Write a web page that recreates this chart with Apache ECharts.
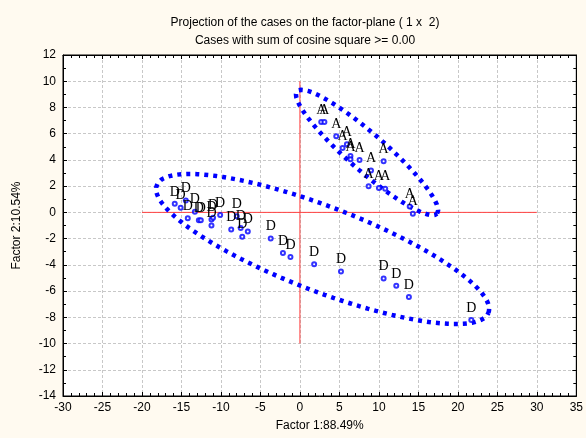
<!DOCTYPE html>
<html>
<head>
<meta charset="utf-8">
<script src="https://cdn.jsdelivr.net/npm/echarts@6/dist/echarts.min.js"></script>
<style>
  html, body { margin: 0; padding: 0; background: #fffaf0; }
  #box { width: 586px; height: 438px; }
</style>
</head>
<body>
<div id="box"></div>
<script>
// case coordinates on factor 1 / factor 2
var casesA = [
  [2.7, 6.9], [3.1, 6.9], [4.6, 5.8], [5.95, 5.2], [5.4, 4.9],
  [6.4, 4.3], [6.4, 4.05], [7.55, 4.0], [10.6, 3.9], [9.0, 3.2],
  [8.7, 2.0], [10.0, 1.85], [10.8, 1.8], [13.9, 0.45], [14.3, -0.1]
];
var casesD = [
  [-15.85, 0.65], [-15.1, 0.35], [-14.45, 0.9], [-14.2, -0.45], [-13.3, 0.05],
  [-12.8, -0.6], [-12.55, -0.6], [-11.2, -0.55], [-11.2, -1.0], [-11.0, -0.4],
  [-10.1, -0.2], [-8.0, -0.3], [-8.7, -1.3], [-7.5, -1.2], [-7.3, -1.85],
  [-6.6, -1.45], [-3.7, -2.0], [-2.15, -3.1], [-1.2, -3.4], [1.8, -3.95],
  [5.2, -4.5], [10.6, -5.05], [12.2, -5.6], [13.8, -6.45], [21.7, -8.2]
];
// red reference axes
var axisLineH = [[-20, 0], [30, 0]];
var axisLineV = [[0, -10], [0, 10]];
// ellipses: centre, half-axis vector 1, half-axis vector 2 (data units)
var ellipseA = { c: [8.5, 4.57], u: [8.87, -4.66], v: [1.535, 1.066] };
var ellipseD = { c: [2.87, -2.79], u: [21.0, -4.87], v: [1.95, 3.0] };

var xTicks = { min: -30, max: 35, step: 5 };
var yTicks = { min: -14, max: 12, step: 2 };

function ellipsePoints(e) {
  var pts = [];
  for (var i = 0; i <= 120; i++) {
    var t = (i / 120) * Math.PI * 2;
    pts.push([
      e.c[0] + e.u[0] * Math.cos(t) + e.v[0] * Math.sin(t),
      e.c[1] + e.u[1] * Math.cos(t) + e.v[1] * Math.sin(t)
    ]);
  }
  return pts;
}

var chart = echarts.init(document.getElementById("box"));

var labelFont = "Liberation Sans";
var axisCommon = {
  axisLine: { show: true, onZero: false, lineStyle: { color: "#000", width: 1 } },
  axisTick: { show: true, inside: true, length: 4, lineStyle: { color: "#000" } }
};

function pointSeries(data, letter) {
  return {
    type: "scatter",
    data: data,
    symbol: "emptyCircle",
    symbolSize: 4,
    itemStyle: { color: "#0000ff", borderWidth: 1 },
    label: {
      show: true,
      position: "top",
      distance: 2,
      offset: [1, 0],
      formatter: letter,
      color: "#000000",
      opacity: 1,
      textBorderWidth: 0,
      fontFamily: "Liberation Serif",
      fontSize: 14
    },
    labelLayout: { hideOverlap: false },
    z: 5
  };
}

function ellipseSeries(e) {
  return {
    type: "line",
    data: ellipsePoints(e),
    showSymbol: false,
    lineStyle: { color: "#0000ff", width: 4.5, type: [4, 5], cap: "butt" },
    z: 3
  };
}

function redLine(data) {
  return {
    type: "line",
    data: data,
    showSymbol: false,
    lineStyle: { color: "#ff4040", width: 1 },
    z: 2
  };
}

var option = {
  backgroundColor: "#fffaf0",
  animation: false,
  title: [
    {
      text: "Projection of the cases on the factor-plane ( 1 x  2)",
      left: 300, top: 12, textAlign: "center",
      textStyle: { fontFamily: labelFont, fontSize: 12, fontWeight: "normal", color: "#000" }
    },
    {
      text: "Cases with sum of cosine square >= 0.00",
      left: 300, top: 30, textAlign: "center",
      textStyle: { fontFamily: labelFont, fontSize: 12, fontWeight: "normal", color: "#000" }
    }
  ],
  grid: { left: 63, right: 9, top: 55, bottom: 42, backgroundColor: "#fff", show: true, borderColor: "#000", borderWidth: 1 },
  xAxis: [
    Object.assign({}, axisCommon, {
      type: "value", min: xTicks.min, max: xTicks.max, interval: xTicks.step,
      minorTick: { show: true, splitNumber: 5, length: 3, lineStyle: { color: "#000" } },
      name: "Factor 1:88.49%", nameLocation: "middle", nameGap: 24,
      nameTextStyle: { fontFamily: labelFont, fontSize: 12, color: "#000" },
      axisLabel: { fontFamily: labelFont, fontSize: 12, color: "#000", margin: 6 },
      splitLine: { show: true, lineStyle: { color: "#c8c8c8", type: [3, 2] } }
    }),
    Object.assign({}, axisCommon, {
      type: "value", position: "top", min: xTicks.min, max: xTicks.max, interval: xTicks.step,
      minorTick: { show: true, splitNumber: 5, length: 3, lineStyle: { color: "#000" } },
      axisLabel: { show: false }, splitLine: { show: false }
    })
  ],
  yAxis: [
    Object.assign({}, axisCommon, {
      type: "value", min: yTicks.min, max: yTicks.max, interval: yTicks.step,
      minorTick: { show: true, splitNumber: 2, length: 3, lineStyle: { color: "#000" } },
      name: "Factor 2:10.54%", nameLocation: "middle", nameGap: 40,
      nameTextStyle: { fontFamily: labelFont, fontSize: 12, color: "#000" },
      axisLabel: { fontFamily: labelFont, fontSize: 12, color: "#000", margin: 7 },
      splitLine: { show: true, lineStyle: { color: "#c8c8c8", type: [3, 2] } }
    }),
    Object.assign({}, axisCommon, {
      type: "value", position: "right", min: yTicks.min, max: yTicks.max, interval: yTicks.step,
      minorTick: { show: true, splitNumber: 2, length: 3, lineStyle: { color: "#000" } },
      axisLabel: { show: false }, splitLine: { show: false }
    })
  ],
  series: [
    redLine(axisLineH),
    redLine(axisLineV),
    ellipseSeries(ellipseA),
    ellipseSeries(ellipseD),
    pointSeries(casesA, "A"),
    pointSeries(casesD, "D")
  ]
};

chart.setOption(option);
</script>
</body>
</html>
